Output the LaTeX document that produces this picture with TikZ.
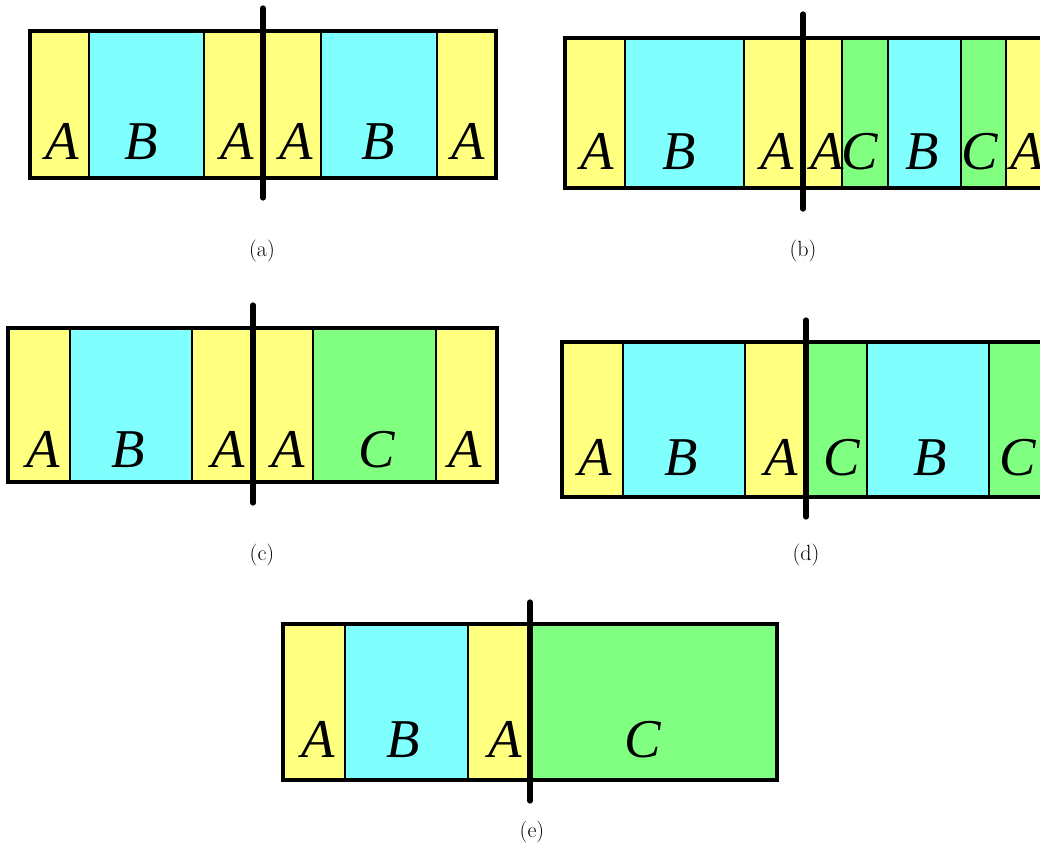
\documentclass[tikz,border=0pt]{standalone}
\usepackage{fontspec}
\newfontfamily\letfont{Liberation Serif}
\definecolor{cA}{RGB}{255,255,128}
\definecolor{cB}{RGB}{128,255,255}
\definecolor{cC}{RGB}{128,255,128}
\tikzset{
  cellA/.style={fill=cA,draw=black,line width=1.9pt},
  cellB/.style={fill=cB,draw=black,line width=1.9pt},
  cellC/.style={fill=cC,draw=black,line width=1.9pt},
  outer/.style={draw=black,line width=2.4pt},
  cutline/.style={draw=black,line width=3.9pt,line cap=round},
  lab/.style={anchor=base,inner sep=0pt,font=\letfont\itshape\fontsize{41}{41}\selectfont},
  capt/.style={inner sep=0pt,font=\fontsize{16.5}{18}\selectfont}
}
\begin{document}
\begin{tikzpicture}[x=0.75pt,y=-0.75pt]
\useasboundingbox (0,0) rectangle (1040,848);
\clip (0,0) rectangle (1040,848);

% ---------- (a)
\filldraw[cellA] (30,31) rectangle (89,178);
\filldraw[cellB] (89,31) rectangle (204,178);
\filldraw[cellA] (204,31) rectangle (263,178);
\filldraw[cellA] (263,31) rectangle (321,178);
\filldraw[cellB] (321,31) rectangle (437,178);
\filldraw[cellA] (437,31) rectangle (496,178);
\draw[outer] (30,31) rectangle (496,178);
\node[lab] (a1) at (62,160) {A};
\node[lab] (a2) at (141,160) {B};
\node[lab] (a3) at (237,160) {A};
\node[lab] (a4) at (296,160) {A};
\node[lab] (a5) at (378,160) {B};
\node[lab] (a6) at (468,160) {A};
\coordinate (acT) at (263,8);
\coordinate (acB) at (263,198);
\draw[cutline] (acT) -- (acB);
\node[capt] (capa) at (262,251) {(a)};

% ---------- (b)
\filldraw[cellA] (565,38) rectangle (625,188);
\filldraw[cellB] (625,38) rectangle (744,188);
\filldraw[cellA] (744,38) rectangle (803,188);
\filldraw[cellA] (803,38) rectangle (842,188);
\filldraw[cellC] (842,38) rectangle (888,188);
\filldraw[cellB] (888,38) rectangle (961,188);
\filldraw[cellC] (961,38) rectangle (1006,188);
\filldraw[cellA] (1006,38) rectangle (1080,188);
\draw[outer] (565,38) rectangle (1080,188);
\node[lab] (b1) at (597,170) {A};
\node[lab] (b2) at (679,170) {B};
\node[lab] (b3) at (777,170) {A};
\node[lab] (b4) at (827,170) {A};
\node[lab] (b5) at (860,170) {C};
\node[lab] (b6) at (922,170) {B};
\node[lab] (b7) at (980,170) {C};
\node[lab] (b8) at (1027,170) {A};
\coordinate (bcT) at (803,14);
\coordinate (bcB) at (803,209);
\draw[cutline] (bcT) -- (bcB);
\node[capt] (capb) at (803,251) {(b)};

% ---------- (c)
\filldraw[cellA] (8,328) rectangle (70,482);
\filldraw[cellB] (70,328) rectangle (192,482);
\filldraw[cellA] (192,328) rectangle (253,482);
\filldraw[cellA] (253,328) rectangle (313,482);
\filldraw[cellC] (313,328) rectangle (436,482);
\filldraw[cellA] (436,328) rectangle (497,482);
\draw[outer] (8,328) rectangle (497,482);
\node[lab] (c1) at (43,468) {A};
\node[lab] (c2) at (128,468) {B};
\node[lab] (c3) at (228,468) {A};
\node[lab] (c4) at (288,468) {A};
\node[lab] (c5) at (377,468) {C};
\node[lab] (c6) at (465,468) {A};
\coordinate (ccT) at (253,305);
\coordinate (ccB) at (253,503);
\draw[cutline] (ccT) -- (ccB);
\node[capt] (capc) at (262,555) {(c)};

% ---------- (d)
\filldraw[cellA] (562,342) rectangle (623,497);
\filldraw[cellB] (623,342) rectangle (745,497);
\filldraw[cellA] (745,342) rectangle (806,497);
\filldraw[cellC] (806,342) rectangle (867,497);
\filldraw[cellB] (867,342) rectangle (989,497);
\filldraw[cellC] (989,342) rectangle (1080,497);
\draw[outer] (562,342) rectangle (1080,497);
\node[lab] (d1) at (595,476) {A};
\node[lab] (d2) at (681,476) {B};
\node[lab] (d3) at (781,476) {A};
\node[lab] (d4) at (842,476) {C};
\node[lab] (d5) at (930,476) {B};
\node[lab] (d6) at (1018,476) {C};
\coordinate (dcT) at (806,320);
\coordinate (dcB) at (806,517);
\draw[cutline] (dcT) -- (dcB);
\node[capt] (capd) at (806,555) {(d)};

% ---------- (e)
\filldraw[cellA] (283,624) rectangle (345,780);
\filldraw[cellB] (345,624) rectangle (468,780);
\filldraw[cellA] (468,624) rectangle (530,780);
\filldraw[cellC] (530,624) rectangle (777,780);
\draw[outer] (283,624) rectangle (777,780);
\node[lab] (e1) at (318,758) {A};
\node[lab] (e2) at (403,758) {B};
\node[lab] (e3) at (505,758) {A};
\node[lab] (e4) at (643,758) {C};
\coordinate (ecT) at (530,602);
\coordinate (ecB) at (530,801);
\draw[cutline] (ecT) -- (ecB);
\node[capt] (cape) at (532,832) {(e)};
\end{tikzpicture}
\end{document}
